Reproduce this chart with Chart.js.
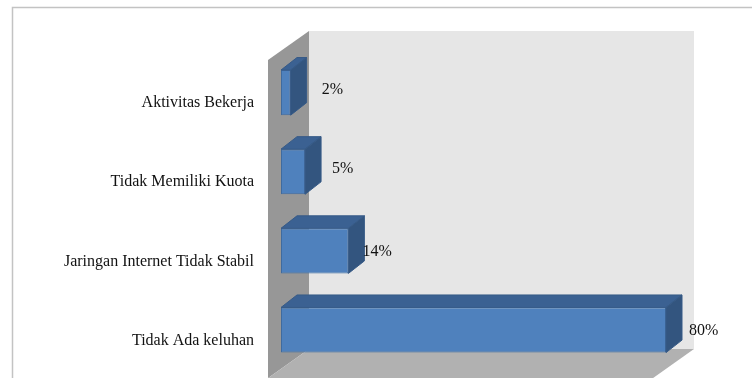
<!DOCTYPE html>
<html>
<head>
<meta charset="utf-8">
<script src="https://cdn.jsdelivr.net/npm/chart.js@4/dist/chart.umd.min.js"></script>
<style>
  html, body { margin: 0; padding: 0; background: #ffffff; }
  #wrap { position: relative; width: 752px; height: 378px; }
</style>
</head>
<body>
<div id="wrap"><canvas id="c" width="752" height="378"></canvas></div>
<script>
// Keluhan responden (persen)
const categories = [
  'Aktivitas Bekerja',
  'Tidak Memiliki Kuota',
  'Jaringan Internet Tidak Stabil',
  'Tidak Ada keluhan'
];
const percentages = [2, 5, 14, 80];
const valueLabels = ['2%', '5%', '14%', '80%'];
const axisMax = 80;

// Label placement tweaks (pixels) for the value labels beside each bar
const labelNudgeX = [31, 27, 14, 23];
const labelNudgeY = [-3, -3, 1, 1];

const FONT = "'Liberation Serif', 'Times New Roman', serif";

// Depth of the bar boxes and of the chart walls
const BAR_DX = 16, BAR_DY = 12.5;
const WALL_DX = 41, WALL_DY = 29;

const box3d = {
  id: 'box3d',
  beforeDatasetsDraw(chart) {
    const ctx = chart.ctx;
    const a = chart.chartArea;
    const xs = chart.scales.x;
    ctx.save();
    // outer frame
    ctx.strokeStyle = '#c3c3c3';
    ctx.lineWidth = 1.5;
    ctx.beginPath();
    ctx.moveTo(12.5, 378);
    ctx.lineTo(12.5, 7.5);
    ctx.lineTo(752, 7.5);
    ctx.stroke();

    const fx = xs.getPixelForValue(0) - 13;           // front-left edge of walls
    const bx = fx + WALL_DX;                           // back-left edge
    const brx = xs.getPixelForValue(axisMax) + 28;     // back-right edge
    const topBack = a.top - 22;
    const botBack = a.bottom - 20.5;
    const topFront = topBack + WALL_DY;
    const botFront = botBack + WALL_DY;

    // back wall
    ctx.fillStyle = '#e6e6e6';
    ctx.fillRect(bx, topBack, brx - bx, botBack - topBack);

    // left side wall
    ctx.fillStyle = '#979797';
    ctx.beginPath();
    ctx.moveTo(fx, topFront);
    ctx.lineTo(bx, topBack);
    ctx.lineTo(bx, botBack);
    ctx.lineTo(fx, botFront);
    ctx.closePath();
    ctx.fill();

    // floor
    ctx.fillStyle = '#b1b1b1';
    ctx.beginPath();
    ctx.moveTo(fx, botFront);
    ctx.lineTo(bx, botBack);
    ctx.lineTo(brx, botBack);
    ctx.lineTo(brx - WALL_DX, botFront);
    ctx.closePath();
    ctx.fill();
    ctx.restore();
  },
  afterDatasetsDraw(chart) {
    const ctx = chart.ctx;
    const meta = chart.getDatasetMeta(0);
    ctx.save();
    meta.data.forEach((bar, i) => {
      const p = bar.getProps(['x', 'y', 'base', 'height'], true);
      const x0 = p.base, x1 = p.x;
      const y0 = p.y - p.height / 2, y1 = p.y + p.height / 2;
      // top face
      ctx.fillStyle = '#3b6192';
      ctx.strokeStyle = '#365a87';
      ctx.lineWidth = 1;
      ctx.beginPath();
      ctx.moveTo(x0, y0);
      ctx.lineTo(x0 + BAR_DX, y0 - BAR_DY);
      ctx.lineTo(x1 + BAR_DX, y0 - BAR_DY);
      ctx.lineTo(x1, y0);
      ctx.closePath();
      ctx.fill();
      ctx.stroke();
      // end face
      ctx.fillStyle = '#33557f';
      ctx.beginPath();
      ctx.moveTo(x1, y0);
      ctx.lineTo(x1 + BAR_DX, y0 - BAR_DY);
      ctx.lineTo(x1 + BAR_DX, y1 - BAR_DY);
      ctx.lineTo(x1, y1);
      ctx.closePath();
      ctx.fill();
      ctx.stroke();

      // value label
      ctx.fillStyle = '#111111';
      ctx.font = '16px ' + FONT;
      ctx.textAlign = 'left';
      ctx.textBaseline = 'middle';
      ctx.fillText(valueLabels[i], x1 + labelNudgeX[i], p.y + labelNudgeY[i]);
    });
    ctx.restore();
  }
};

new Chart(document.getElementById('c'), {
  type: 'bar',
  data: {
    labels: categories,
    datasets: [{
      data: percentages,
      backgroundColor: '#4f81bd',
      borderColor: '#3f6b9f',
      borderWidth: 1,
      borderSkipped: false,
      categoryPercentage: 1,
      barPercentage: 0.57
    }]
  },
  options: {
    indexAxis: 'y',
    responsive: false,
    animation: false,
    devicePixelRatio: 1,
    layout: { padding: { left: 0, right: 86, top: 53, bottom: 8.4 } },
    plugins: {
      legend: { display: false },
      tooltip: { enabled: false }
    },
    scales: {
      x: {
        display: false,
        min: 0,
        max: axisMax
      },
      y: {
        grid: { display: false, drawTicks: false },
        border: { display: false },
        afterFit(scale) {
          scale.width = 281;
          scale.paddingTop = 0;
          scale.paddingBottom = 0;
        },
        ticks: {
          padding: 27,
          labelOffset: 10.5,
          color: '#111111',
          font: { family: FONT, size: 16 }
        }
      }
    }
  },
  plugins: [box3d]
});
</script>
</body>
</html>
